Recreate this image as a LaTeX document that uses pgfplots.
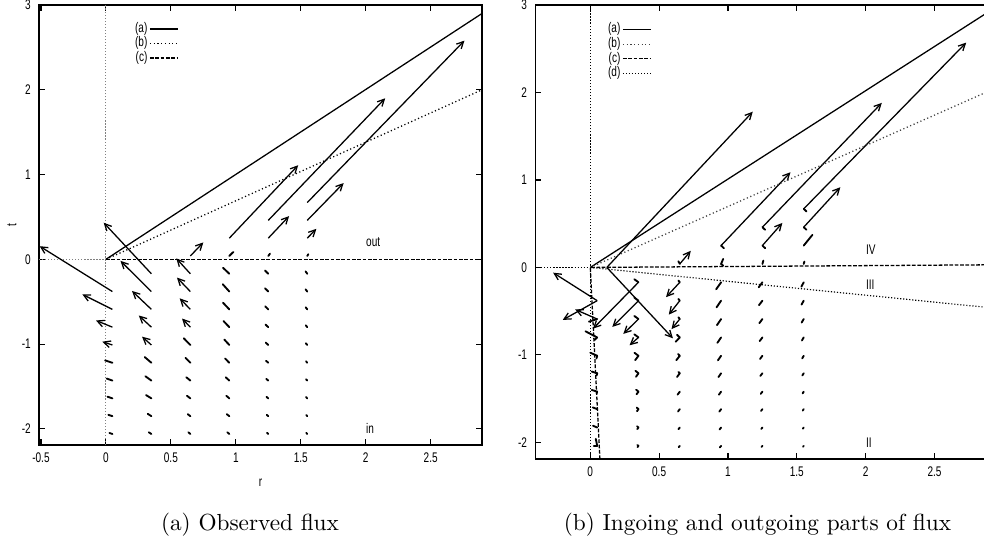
\documentclass[border=0pt]{standalone}
\usepackage{fontspec}
\usepackage{pgfplots}
\pgfplotsset{compat=1.18}
\usetikzlibrary{arrows.meta}
\newfontfamily\gnu[FakeStretch=0.72]{Liberation Sans}
\newcommand{\gf}{\gnu\fontsize{6}{7}\selectfont}

% observed flux, arrows with heads
\pgfplotstableread{
x y u v
0.05 -0.38 -0.56 0.535
0.05 -0.59 -0.231 0.177
0.05 -0.80 -0.126 0.079
0.05 -1.01 -0.077 0.039
0.35 -0.17 -0.367 0.602
0.35 -0.38 -0.238 0.362
0.35 -0.59 -0.149 0.217
0.35 -0.80 -0.097 0.138
0.35 -1.01 -0.072 0.098
0.65 -0.17 -0.108 0.181
0.65 -0.38 -0.103 0.165
0.65 -0.59 -0.082 0.13
0.65 -0.80 -0.064 0.102
0.65 0.04 0.10 0.16
0.95 0.25 0.53 0.86
1.25 0.25 0.16 0.26
1.25 0.46 0.90 1.44
1.55 0.25 0.07 0.11
1.55 0.46 0.28 0.44
1.55 0.67 1.21 1.91
}\obsbig
% observed flux, short vectors
\pgfplotstableread{
x y u v
0.05 -1.22 -0.056 0.028
0.05 -1.43 -0.044 0.024
0.05 -1.64 -0.038 0.02
0.05 -1.85 -0.031 0.016
0.05 -2.06 -0.023 0.012
0.35 -1.22 -0.051 0.067
0.35 -1.43 -0.046 0.051
0.35 -1.64 -0.041 0.039
0.35 -1.85 -0.028 0.028
0.35 -2.06 -0.02 0.02
0.65 -1.01 -0.051 0.079
0.65 -1.22 -0.038 0.059
0.65 -1.43 -0.031 0.039
0.65 -1.64 -0.026 0.031
0.65 -1.85 -0.02 0.024
0.65 -2.06 -0.015 0.02
0.95 -0.17 -0.049 0.071
0.95 -0.38 -0.051 0.087
0.95 -0.59 -0.049 0.079
0.95 -0.80 -0.044 0.071
0.95 -1.01 -0.038 0.063
0.95 -1.22 -0.033 0.051
0.95 -1.43 -0.028 0.039
0.95 -1.64 -0.023 0.031
0.95 -1.85 -0.02 0.024
0.95 -2.06 -0.015 0.02
1.25 -0.17 -0.026 0.039
1.25 -0.38 -0.026 0.039
1.25 -0.59 -0.024 0.035
1.25 -0.80 -0.022 0.031
1.25 -1.01 -0.02 0.028
1.25 -1.22 -0.018 0.024
1.25 -1.43 -0.016 0.02
1.25 -1.64 -0.014 0.018
1.25 -1.85 -0.012 0.016
1.25 -2.06 -0.01 0.014
1.55 -0.17 -0.013 0.028
1.55 -0.38 -0.013 0.026
1.55 -0.59 -0.012 0.024
1.55 -0.80 -0.012 0.022
1.55 -1.01 -0.011 0.02
1.55 -1.22 -0.01 0.018
1.55 -1.43 -0.01 0.016
1.55 -1.64 -0.009 0.015
1.55 -1.85 -0.008 0.014
1.55 -2.06 -0.008 0.013
0.95 0.04 0.031 0.047
1.25 0.04 0.013 0.027
1.55 0.04 0.008 0.02
}\obssmall
% ingoing/outgoing parts, arrows with heads
\pgfplotstableread{
x y u v
0.12 0.0 1.06 1.78
0.12 0.0 0.48 -0.81
0.05 -0.38 -0.32 0.32
0.05 -0.38 -0.25 -0.22
0.05 -0.59 -0.16 0.11
0.35 -0.17 -0.33 -0.53
0.35 -0.38 -0.19 -0.30
0.35 -0.59 -0.11 -0.17
0.35 -0.80 -0.065 -0.09
0.65 -0.17 -0.10 -0.17
0.65 -0.38 -0.08 -0.16
0.65 -0.59 -0.06 -0.115
0.65 0.04 0.08 0.15
0.95 0.25 0.504 0.838
1.25 0.25 0.145 0.259
1.25 0.46 0.867 1.421
1.55 0.46 0.266 0.457
1.55 0.67 1.18 1.90
}\inoutbig
% ingoing/outgoing parts, short vectors
\pgfplotstableread{
x y u v
0.95 0.25 0.02 -0.03
1.25 0.25 0.02 -0.03
1.25 0.46 0.02 -0.03
1.55 0.46 0.02 -0.03
1.55 0.67 0.02 -0.03
0.65 0.04 -0.01 0.03
0.95 0.04 0.015 0.057
0.95 0.04 0.015 -0.02
1.25 0.04 0.007 0.038
1.55 0.04 0.005 0.027
1.55 0.25 0.063 0.122
0.05 -0.59 -0.06 -0.03
0.05 -0.80 -0.085 0.07
0.05 -0.80 -0.02 -0.03
0.05 -1.01 -0.05 0.035
0.05 -1.01 -0.005 -0.03
0.05 -1.21 -0.04 0.02
0.05 -1.21 -0.004 -0.025
0.05 -1.42 -0.04 0.02
0.05 -1.42 -0.004 -0.02
0.05 -1.62 -0.032 0.02
0.05 -1.83 -0.03 0.02
0.05 -2.04 -0.025 0.0
0.05 -2.04 -0.01 0.08
0.35 -0.17 -0.03 0.035
0.35 -0.38 -0.03 0.035
0.35 -0.59 -0.03 0.035
0.35 -0.80 -0.03 0.035
0.35 -1.01 -0.029 0.034
0.35 -1.01 -0.024 -0.05
0.35 -1.21 -0.022 0.028
0.35 -1.21 -0.018 -0.04
0.35 -1.42 -0.017 0.022
0.35 -1.42 -0.014 -0.03
0.35 -1.62 -0.013 0.018
0.35 -1.62 -0.011 -0.024
0.35 -1.83 -0.01 0.014
0.35 -1.83 -0.009 -0.018
0.35 -2.04 -0.008 0.01
0.35 -2.04 -0.007 -0.014
0.65 -0.17 -0.01 0.02
0.65 -0.38 -0.01 0.02
0.65 -0.59 -0.01 0.02
0.65 -0.80 -0.03 -0.05
0.65 -0.80 -0.02 0.03
0.65 -1.01 -0.025 -0.05
0.65 -1.01 -0.012 0.02
0.65 -1.21 -0.02 -0.042
0.65 -1.21 -0.01 0.015
0.65 -1.42 -0.016 -0.034
0.65 -1.62 -0.013 -0.027
0.65 -1.83 -0.01 -0.02
0.65 -2.04 -0.008 -0.015
0.95 -0.17 -0.036 -0.08
0.95 -0.38 -0.033 -0.076
0.95 -0.59 -0.03 -0.07
0.95 -0.80 -0.027 -0.062
0.95 -1.01 -0.023 -0.052
0.95 -1.21 -0.019 -0.043
0.95 -1.42 -0.016 -0.035
0.95 -1.62 -0.013 -0.028
0.95 -1.83 -0.011 -0.022
0.95 -2.04 -0.009 -0.017
1.25 -0.17 -0.027 -0.057
1.25 -0.38 -0.025 -0.052
1.25 -0.59 -0.022 -0.047
1.25 -0.80 -0.02 -0.042
1.25 -1.01 -0.017 -0.036
1.25 -1.21 -0.015 -0.03
1.25 -1.42 -0.012 -0.025
1.25 -1.62 -0.01 -0.02
1.25 -1.83 -0.008 -0.016
1.25 -2.04 -0.007 -0.012
1.55 -0.17 -0.017 -0.05
1.55 -0.38 -0.016 -0.045
1.55 -0.59 -0.015 -0.04
1.55 -0.80 -0.013 -0.035
1.55 -1.01 -0.011 -0.03
1.55 -1.21 -0.01 -0.025
1.55 -1.42 -0.008 -0.02
1.55 -1.62 -0.007 -0.016
1.55 -1.83 -0.006 -0.013
1.55 -2.04 -0.005 -0.01
}\inoutsmall

\pgfplotsset{
  gp/.style={
    scale only axis,
    anchor=north west,
    ymin=-2.19, ymax=3,
    axis line style={line width=0.6pt},
    tick style={black, line width=0.5pt},
    major tick length=2.6pt,
    ytick={-2,-1,0,1,2,3},
    yticklabels={-2,-1,0,1,2,3},
    tick label style={font=\gf},
    label style={font=\gf},
    every axis y label/.style={at={(axis description cs:0,0.5)},
      xshift=-11.6pt, anchor=center, rotate=90, font=\gf},
    clip=true,
    legend plot pos=right,
    legend cell align=right,
    legend image code/.code={\draw[##1] (0pt,0pt) -- (12pt,0pt);},
    legend style={draw=none, fill=none, font=\gf, row sep=-1.2pt,
      nodes={inner sep=0.8pt}},
  },
  bigq/.style={line width=0.55pt, -{Straight Barb[length=2.9pt,width=2.9pt]},
    quiver={u=\thisrow{u},v=\thisrow{v}}, forget plot},
  smallq/.style={line width=0.8pt, line cap=round,
    quiver={u=\thisrow{u},v=\thisrow{v}}, forget plot},
  lb/.style={dash pattern=on 0.5pt off 1.1pt, line width=0.55pt},
  lc/.style={dash pattern=on 1.6pt off 0.7pt, line width=0.55pt},
  ld/.style={dash pattern=on 0.5pt off 0.8pt, line width=0.5pt},
}

\begin{document}
\begin{tikzpicture}
\useasboundingbox (0pt,0pt) rectangle (423.12pt,-233.49pt);

\begin{axis}[gp,
  at={(16.77pt,-2.15pt)}, width=190.49pt, height=189.2pt,
  xmin=-0.515, xmax=2.895,
  xtick={-0.5,0,0.5,1,1.5,2,2.5},
  xticklabels={-0.5,0,0.5,1,1.5,2,2.5},
  xlabel={r}, ylabel={t},
  legend style={at={(0.196,0.977)}, anchor=north west},
]
\addplot[gray, dash pattern=on 0.5pt off 0.8pt, line width=0.45pt, forget plot] coordinates {(0,-2.19) (0,3)};
\addplot[gray, dash pattern=on 0.5pt off 0.8pt, line width=0.45pt, forget plot] coordinates {(-0.515,0) (0,0)};
\addplot[bigq] table[x=x,y=y] {\obsbig};
\addplot[smallq] table[x=x,y=y] {\obssmall};
\addplot[black, line width=0.55pt] coordinates {(0,0) (2.895,2.9)};
\addlegendentry{(a)}
\addplot[black, lb] coordinates {(0,0) (2.895,2.0)};
\addlegendentry{(b)}
\addplot[black, lc] coordinates {(0,0) (2.895,0)};
\addlegendentry{(c)}
\node[anchor=west, inner sep=0pt, font=\gf] at (axis cs:2.0,0.2) {out};
\node[anchor=west, inner sep=0pt, font=\gf] at (axis cs:2.0,-2.0) {in};
\end{axis}

\begin{axis}[gp,
  at={(230.14pt,-2.15pt)}, width=195.39pt, height=195.22pt,
  xmin=-0.40, xmax=2.9,
  xtick={0,0.5,1,1.5,2,2.5},
  xticklabels={0,0.5,1,1.5,2,2.5},
  legend style={at={(0.14,0.976)}, anchor=north west},
]
\addplot[black, dash pattern=on 0.5pt off 0.8pt, line width=0.45pt, forget plot] coordinates {(0,-2.19) (0,3)};
\addplot[black, dash pattern=on 0.5pt off 0.8pt, line width=0.45pt, forget plot] coordinates {(-0.40,0) (0,0)};
\addplot[bigq] table[x=x,y=y] {\inoutbig};
\addplot[smallq] table[x=x,y=y] {\inoutsmall};
\addplot[black, line width=0.55pt] coordinates {(0,0) (2.9,2.93)};
\addlegendentry{(a)}
\addplot[black!75, lb] coordinates {(0,0) (2.9,2.02)};
\addlegendentry{(b)}
\addplot[black, lc] coordinates {(0.07,-2.19) (0,0) (2.9,0.03)};
\addlegendentry{(c)}
\addplot[black, ld] coordinates {(0,0) (2.9,-0.46)};
\addlegendentry{(d)}
\node[anchor=west, inner sep=0pt, font=\gf] at (axis cs:2.0,0.2) {IV};
\node[anchor=west, inner sep=0pt, font=\gf] at (axis cs:2.0,-0.2) {III};
\node[anchor=west, inner sep=0pt, font=\gf] at (axis cs:2.0,-2.0) {II};
\end{axis}

\node[font=\fontsize{10}{12}\selectfont] at (107.5pt,-225.75pt) {(a) Observed flux};
\node[font=\fontsize{10}{12}\selectfont] at (325.7pt,-225.75pt) {(b) Ingoing and outgoing parts of flux};
\end{tikzpicture}
\end{document}
